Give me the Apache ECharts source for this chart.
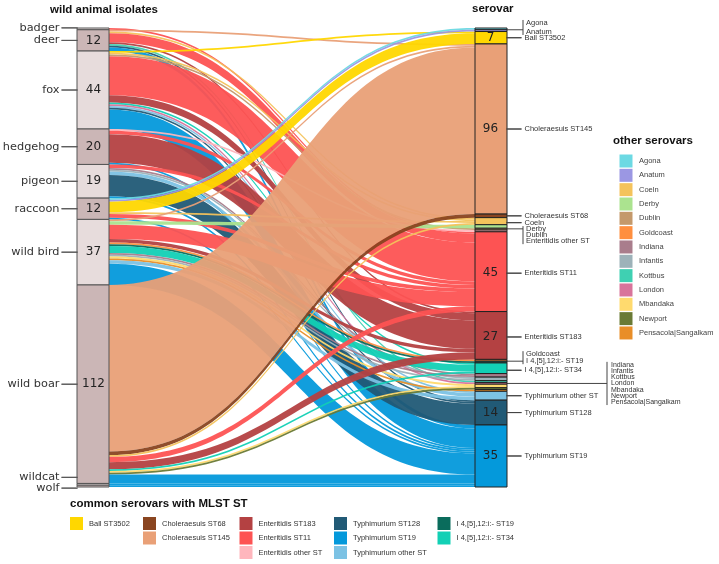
<!DOCTYPE html>
<html><head><meta charset="utf-8">
<script src="https://cdn.jsdelivr.net/npm/echarts@6/dist/echarts.min.js"></script>
<style>html,body{margin:0;padding:0;background:#fff}#c{width:719px;height:564px}</style>
</head><body><div id="c"></div>
<script>
// ---------------- DATA ----------------
const animals = ['badger','deer','fox','hedgehog','pigeon','raccoon','wild bird','wild boar','wildcat','wolf'];
const animalCounts = [1,12,44,20,19,12,37,112,1,1];
const serovars = ['Agona','Anatum','Ball ST3502','Choleraesuis ST145','Choleraesuis ST68','Coeln','Derby','Dublin',
  'Enteritidis other ST','Enteritidis ST11','Enteritidis ST183','Goldcoast','I 4,[5],12:i:- ST19','I 4,[5],12:i:- ST34',
  'Indiana','Infantis','Kottbus','London','Mbandaka','Newport','Pensacola|Sangalkam','Typhimurium other ST',
  'Typhimurium ST128','Typhimurium ST19'];
const serovarCounts = [1,1,7,96,2,4,2,1,1,45,27,1,1,6,2,2,1,1,2,1,1,5,14,35];

const badgerFlows = [['Enteritidis ST11',1]];
const deerFlows = [['Choleraesuis ST145',1],['Coeln',1],['Enteritidis ST11',5],['Enteritidis ST183',1],['Kottbus',1],['Typhimurium ST128',1],['Typhimurium ST19',2]];
const foxFlows = [['Ball ST3502',1],['Coeln',1],['Dublin',1],['Enteritidis ST11',22],['Enteritidis ST183',4],['I 4,[5],12:i:- ST34',1],['London',1],['Typhimurium other ST',1],['Typhimurium ST128',1],['Typhimurium ST19',11]];
const hedgehogFlows = [['Enteritidis other ST',1],['Enteritidis ST11',2],['Enteritidis ST183',16],['Typhimurium ST19',1]];
const pigeonFlows = [['Enteritidis ST11',2],['Indiana',1],['Infantis',1],['Typhimurium other ST',2],['Typhimurium ST128',12],['Typhimurium ST19',1]];
const raccoonFlows = [['Agona',1],['Anatum',1],['Ball ST3502',6],['Coeln',1],['Enteritidis ST11',2],['Typhimurium ST19',1]];
const wildBirdFlows = [['Choleraesuis ST145',1],['Derby',2],['Enteritidis ST11',8],['Enteritidis ST183',2],['Goldcoast',1],['I 4,[5],12:i:- ST19',1],['I 4,[5],12:i:- ST34',4],['Indiana',1],['Infantis',1],['Mbandaka',1],['Pensacola|Sangalkam',1],['Typhimurium other ST',2],['Typhimurium ST19',12]];
const wildBoarFlows = [['Choleraesuis ST145',94],['Choleraesuis ST68',2],['Coeln',1],['Enteritidis ST11',3],['Enteritidis ST183',4],['I 4,[5],12:i:- ST34',1],['Mbandaka',1],['Newport',1],['Typhimurium ST19',5]];
const wildcatFlows = [['Typhimurium ST19',1]];
const wolfFlows = [['Typhimurium ST19',1]];
const flowsByAnimal = [badgerFlows,deerFlows,foxFlows,hedgehogFlows,pigeonFlows,raccoonFlows,wildBirdFlows,wildBoarFlows,wildcatFlows,wolfFlows];

const otherSerovars = ['Agona','Anatum','Coeln','Derby','Dublin','Goldcoast','Indiana','Infantis','Kottbus','London','Mbandaka','Newport','Pensacola|Sangalkam'];
const commonColumns = [
  ['Ball ST3502'],
  ['Choleraesuis ST68','Choleraesuis ST145'],
  ['Enteritidis ST183','Enteritidis ST11','Enteritidis other ST'],
  ['Typhimurium ST128','Typhimurium ST19','Typhimurium other ST'],
  ['I 4,[5],12:i:- ST19','I 4,[5],12:i:- ST34']
];

// ---------------- STYLE ----------------
const colors = {
  'Agona':'#6cd9e3','Anatum':'#9b97e3','Coeln':'#f4c35c','Derby':'#abe38f','Dublin':'#c4996b','Goldcoast':'#ff8f3f',
  'Indiana':'#a97d8c','Infantis':'#9db2b9','Kottbus':'#3fd0b2','London':'#d8749b','Mbandaka':'#ffda6e','Newport':'#6a7a35',
  'Pensacola|Sangalkam':'#e98e28','Ball ST3502':'#ffd700','Choleraesuis ST68':'#8a4520','Choleraesuis ST145':'#e9a077',
  'Enteritidis ST183':'#b44142','Enteritidis ST11':'#fd5353','Enteritidis other ST':'#ffb6bd','Typhimurium ST128':'#215a76',
  'Typhimurium ST19':'#0499db','Typhimurium other ST':'#7cc2e4','I 4,[5],12:i:- ST19':'#0a6c5c','I 4,[5],12:i:- ST34':'#12d0b5'
};
const L = {left:77, top:28, right:212, bottom:77, nodeWidth:32};
const leftLabelShift = {'badger':-1,'wildcat':-7,'wolf':2};
const rightLabelShift = {'Coeln':1.5,'I 4,[5],12:i:- ST34':2,'Enteritidis ST11':1.5,'Enteritidis ST183':1.5};
const bracketGroups = [
  {members:['Agona','Anatum'], step:9, shift:-2.3, bx:523, tx:526, fs:7.5},
  {members:['Derby','Dublin','Enteritidis other ST'], step:6, shift:6.3, bx:523, tx:526, fs:7.5},
  {members:['Goldcoast','I 4,[5],12:i:- ST19'], step:7, shift:-3.5, bx:523, tx:526, fs:7.5},
  {members:['Indiana','Infantis','Kottbus','London','Mbandaka','Newport','Pensacola|Sangalkam'], step:6.2, shift:0, bx:607, tx:611, fs:7}
];
const grouped = new Set([].concat(...bracketGroups.map(g => g.members)));

const leftRich = {
  name:{fontFamily:'DejaVu Sans', fontSize:11.3, color:'#333'},
  gap:{width:2},
  line:{width:16, height:0, borderColor:'#555', borderWidth:1},
  num:{width:32, align:'center', fontFamily:'DejaVu Sans', fontSize:12, color:'#222'}
};
const rightRich = {
  num:{width:32, align:'center', fontFamily:'DejaVu Sans', fontSize:12, color:'#222'},
  line:{width:15, height:0, borderColor:'#444', borderWidth:1},
  gap:{width:3},
  name:{fontFamily:'Liberation Sans', fontSize:7.5, color:'#333'}
};

// ---------------- BUILD ----------------
const nodes = [];
animals.forEach((a, i) => {
  const v = animalCounts[i];
  const txt = `{name|${a}}{gap| }{line| }{num|${v >= 7 ? v : ' '}}`;
  nodes.push({
    name: a, value: v,
    itemStyle: {color: i % 2 ? '#cbb6b6' : '#e7dcdc', borderColor:'#555', borderWidth:1},
    label: {show:true, position:'insideRight', distance:0, offset:[0, leftLabelShift[a] || 0],
      formatter: () => txt, rich: leftRich}
  });
});
serovars.forEach((s, i) => {
  const v = serovarCounts[i];
  const txt = `{num|${v >= 7 ? v : ' '}}{line| }{gap| }{name|${s}}`;
  nodes.push({
    name: s, value: v,
    itemStyle: {color: colors[s], borderColor:'#222', borderWidth:1},
    label: grouped.has(s) ? {show:false} :
      {show:true, position:'insideLeft', distance:0, offset:[0, rightLabelShift[s] || 0],
       formatter: () => txt, rich: rightRich}
  });
});
const links = [];
animals.forEach((a, i) => {
  flowsByAnimal[i].forEach(([s, v]) => {
    links.push({source:a, target:s, value:v, lineStyle:{color:colors[s]}});
  });
});

const chart = echarts.init(document.getElementById('c'), null, {renderer:'canvas'});
chart.setOption({
  animation:false,
  series:[{
    type:'sankey',
    left:L.left, top:L.top, right:L.right, bottom:L.bottom,
    nodeWidth:L.nodeWidth, nodeGap:0, layoutIterations:0,
    draggable:false,
    emphasis:{disabled:true},
    label:{show:true},
    lineStyle:{curveness:0.5, opacity:0.95},
    data:nodes, links:links
  }]
});

// --------- layout-derived annotations ---------
function nodeBox(name) {
  try {
    const sm = chart.getModel().getSeriesByIndex(0);
    const d = sm.getData();
    const lay = d.getItemLayout(d.indexOfName(name));
    const li = sm.layoutInfo || {x:L.left, y:L.top};
    return {x: li.x + lay.x, y: li.y + lay.y, w: lay.dx, h: lay.dy};
  } catch (e) {
    const H = 564 - L.top - L.bottom;
    const total = serovarCounts.reduce((a,b)=>a+b,0);
    const idx = serovars.indexOf(name);
    let cum = 0; for (let k = 0; k < idx; k++) cum += serovarCounts[k];
    return {x: 719 - L.right - L.nodeWidth, y: L.top + cum*H/total, w: L.nodeWidth, h: serovarCounts[idx]*H/total};
  }
}
const g = [];
const lineStyle = {stroke:'#444', lineWidth:1};
bracketGroups.forEach(grp => {
  const boxes = grp.members.map(nodeBox);
  const centers = boxes.map(b => b.y + b.h/2);
  const anchor = centers.reduce((a,b)=>a+b,0)/centers.length;
  const n = grp.members.length;
  const ys = grp.members.map((m, k) => anchor + grp.shift + (k - (n-1)/2)*grp.step);
  const x0 = boxes[0].x + boxes[0].w;
  g.push({type:'line', shape:{x1:x0, y1:anchor, x2:grp.bx, y2:anchor}, style:lineStyle, silent:true});
  const yTop = Math.min(ys[0]-3, anchor), yBot = Math.max(ys[n-1]+3, anchor);
  g.push({type:'line', shape:{x1:grp.bx, y1:yTop, x2:grp.bx, y2:yBot}, style:lineStyle, silent:true});
  grp.members.forEach((m, k) => {
    g.push({type:'text', x:grp.tx, y:ys[k], silent:true,
      style:{text:m, font:`${grp.fs}px "Liberation Sans"`, fill:'#333', verticalAlign:'middle', align:'left'}});
  });
});

// titles
const titleFont = 'bold 11.5px "Liberation Sans"';
[['wild animal isolates', 50, 10], ['serovar', 472, 9], ['other serovars', 613, 141], ['common serovars with MLST ST', 70, 504]]
  .forEach(([t, x, y]) => g.push({type:'text', x, y, silent:true,
    style:{text:t, font:titleFont, fill:'#111', verticalAlign:'middle', align:'left'}}));

// other serovars legend
otherSerovars.forEach((s, i) => {
  const cy = 161 + i*14.33;
  g.push({type:'rect', shape:{x:619.5, y:cy-6.5, width:13, height:13}, style:{fill:colors[s]}, silent:true});
  g.push({type:'text', x:639, y:cy, silent:true,
    style:{text:s, font:'7.5px "Liberation Sans"', fill:'#444', verticalAlign:'middle', align:'left'}});
});

// common serovars legend
const colX = [70, 143, 239.5, 334, 437.5];
const rowY = [523.5, 538, 552.5];
commonColumns.forEach((col, ci) => {
  col.forEach((s, ri) => {
    const cy = rowY[ri];
    g.push({type:'rect', shape:{x:colX[ci], y:cy-6.5, width:13, height:13}, style:{fill:colors[s]}, silent:true});
    g.push({type:'text', x:colX[ci]+19, y:cy, silent:true,
      style:{text:s, font:'7.5px "Liberation Sans"', fill:'#333', verticalAlign:'middle', align:'left'}});
  });
});

chart.setOption({graphic:{elements:g}});
</script>
</body></html>
